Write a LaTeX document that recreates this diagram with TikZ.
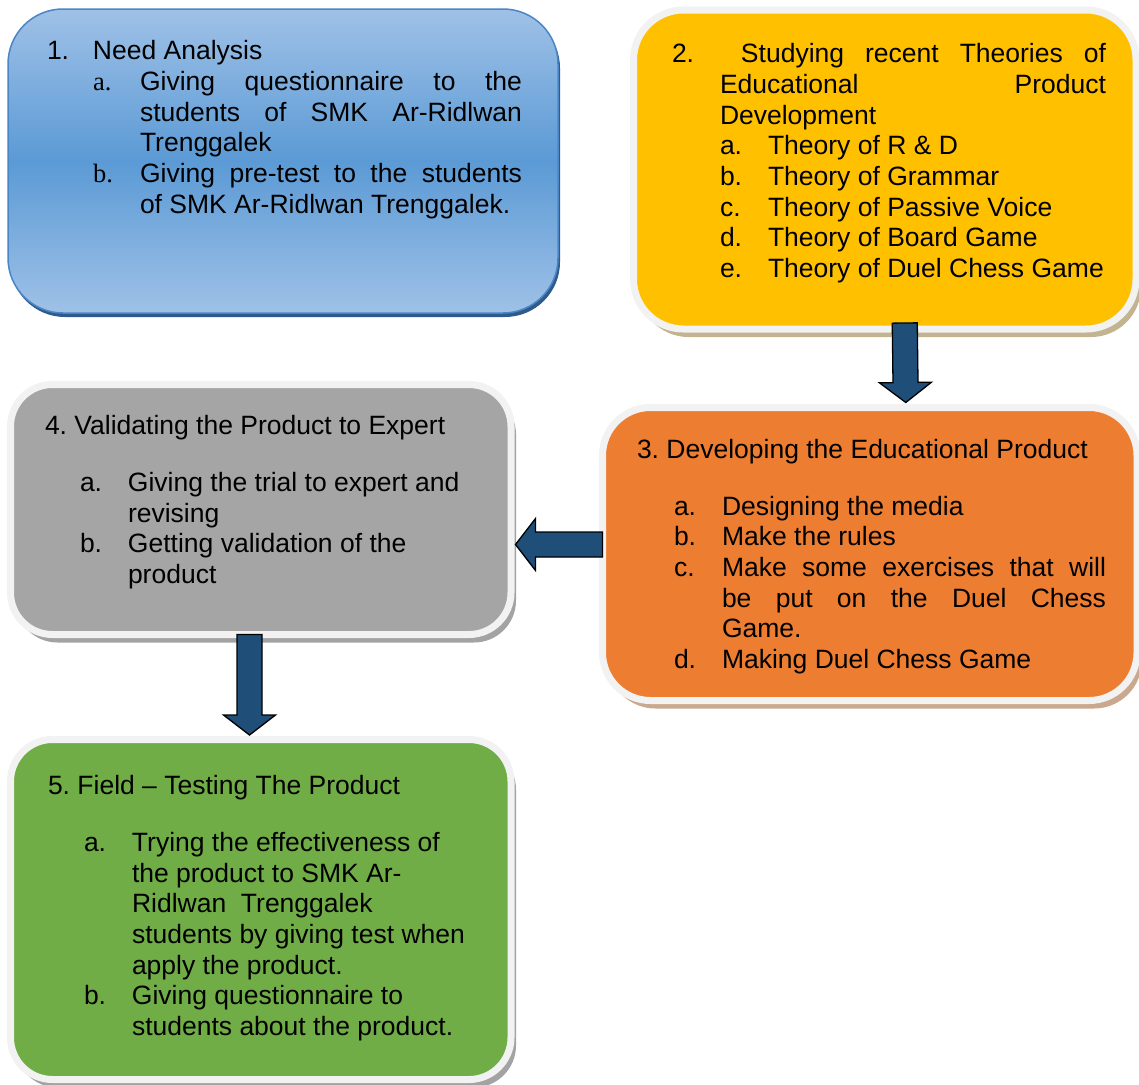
\documentclass[tikz,border=0pt]{standalone}
\usepackage{fontspec}
\setmainfont{Liberation Sans}
\newfontfamily\timesfont{Liberation Serif}
\usetikzlibrary{calc,shadows}

\definecolor{bluelight}{HTML}{9FC1E7}
\definecolor{bluemid}{HTML}{5B9AD5}
\definecolor{blueedge}{HTML}{4A86C5}
\definecolor{blueshadow}{HTML}{2E5A8C}
\definecolor{stepyellow}{HTML}{FFC000}
\definecolor{steporange}{HTML}{ED7D31}
\definecolor{stepgray}{HTML}{A5A5A5}
\definecolor{stepgreen}{HTML}{70AD47}
\definecolor{framegray}{HTML}{F2F2F2}
\definecolor{tanshadow}{HTML}{C2B48E}
\definecolor{brownshadow}{HTML}{C9A88E}
\definecolor{greyshadow}{HTML}{A3A3A3}
\definecolor{arrowblue}{HTML}{1F4E79}

\newcommand\stepfont{\fontsize{26.5}{30.65}\selectfont\frenchspacing
  \tolerance=9999\relax\hbadness=10000\relax\hyphenpenalty=10000\relax}

\tikzset{
  stepbox/.style={draw=framegray, line width=7pt, inner sep=0pt, outer sep=0pt, anchor=north west},
  stepshadow/.style={drop shadow={shadow xshift=5pt, shadow yshift=-8pt, fill=#1, opacity=1}},
  steptext/.style={anchor=north west, inner sep=0pt, outer sep=0pt, align=justify, font=\stepfont},
  flowarrow/.style={fill=arrowblue, draw=black, line width=1.3pt, line join=miter},
}

% first numbered line: label width, label
\newcommand\stepfirst[2]{\noindent\hangindent=#1\hangafter=1
  \makebox[#1][l]{\strut#2}\ignorespaces}
% one list line with hanging indent: indent, label width, label
\newcommand\stepitem[3]{\par\noindent\hangindent=\dimexpr#1+#2\relax\hangafter=1
  \hspace*{#1}\makebox[#2][l]{\strut#3}\ignorespaces}
% ragged line end
\newcommand\stepbreak{\hfil\break}

% block arrow from #2 to #3 (tip)
\newcommand\blockarrow[3]{%
  \coordinate (#1h) at ($(#3)!20pt!(#2)$);
  \filldraw[flowarrow] ($(#2)!12.5pt!90:(#3)$) -- ($(#1h)!12.5pt!90:(#3)$)
    -- ($(#1h)!26pt!90:(#3)$) -- (#3) -- ($(#1h)!26pt!-90:(#3)$)
    -- ($(#1h)!12.5pt!-90:(#3)$) -- ($(#2)!12.5pt!-90:(#3)$) -- cycle;}

\begin{document}
\begin{tikzpicture}[x=1pt,y=-1pt]

    \fill[white] (0,0) rectangle (1139,1084);
    \useasboundingbox (0,0) rectangle (1139,1084);

    % boxes
    \node[draw=blueedge, line width=1.5pt, rounded corners=55pt, inner sep=0pt, outer sep=0pt,
          anchor=north west, top color=bluelight, bottom color=bluelight, middle color=bluemid,
          drop shadow={shadow xshift=2pt, shadow yshift=-4pt, fill=blueshadow, opacity=1},
          minimum width=550pt, minimum height=304pt] (s1) at (8,9) {};
    \node[stepbox, stepshadow=tanshadow, fill=stepyellow, rounded corners=50pt,
          minimum width=502.5pt, minimum height=319pt] (s2) at (633.5,10) {};
    \node[stepbox, stepshadow=brownshadow, fill=steporange, rounded corners=48pt,
          minimum width=534.5pt, minimum height=293pt] (s3) at (602.5,407.5) {};
    \node[stepbox, stepshadow=greyshadow, fill=stepgray, rounded corners=42pt,
          minimum width=500.5pt, minimum height=250pt] (s4) at (10.5,384.5) {};
    \node[stepbox, stepshadow=greyshadow, fill=stepgreen, rounded corners=42pt,
          minimum width=500.5pt, minimum height=340pt] (s5) at (10.5,739.5) {};

    % texts
    \node[steptext, text width=475pt] (t1) at (47,38.5) {%
      \stepfirst{46pt}{1.}Need Analysis
      \stepitem{46pt}{47pt}{\timesfont a.}Giving questionnaire to the\linebreak
        students of SMK Ar-Ridlwan\linebreak Trenggalek
      \stepitem{46pt}{47pt}{\timesfont b.}Giving pre-test to the students\linebreak
        of SMK Ar-Ridlwan Trenggalek.\par};

    \node[steptext, text width=434pt] (t2) at (672,41.5) {%
      \stepfirst{48pt}{2.}\ Studying recent Theories of\linebreak
        Educational Product\linebreak Development
      \stepitem{48pt}{48pt}{a.}Theory of R \& D
      \stepitem{48pt}{48pt}{b.}Theory of Grammar
      \stepitem{48pt}{48pt}{c.}Theory of Passive Voice
      \stepitem{48pt}{48pt}{d.}Theory of Board Game
      \stepitem{48pt}{48pt}{e.}Theory of Duel Chess Game\par};

    \node[steptext, text width=469pt] (t3) at (637,437.5) {%
      \noindent\strut 3. Developing the Educational Product\par\vspace{25.5pt}
      \stepitem{37pt}{48pt}{a.}Designing the media
      \stepitem{37pt}{48pt}{b.}Make the rules
      \stepitem{37pt}{48pt}{c.}Make some exercises that will\linebreak
        be put on the Duel Chess\linebreak Game.
      \stepitem{37pt}{48pt}{d.}Making Duel Chess Game\par};

    \node[steptext, text width=450pt] (t4) at (45,413.5) {%
      \noindent\strut 4. Validating the Product to Expert\par\vspace{26pt}
      \stepitem{35pt}{48pt}{a.}Giving the trial to expert and\stepbreak revising
      \stepitem{35pt}{48pt}{b.}Getting validation of the\stepbreak product\par};

    \node[steptext, text width=450pt] (t5) at (48,773) {%
      \noindent\strut 5. Field -- Testing The Product\par\vspace{26.5pt}
      \stepitem{36pt}{48pt}{a.}Trying the effectiveness of\stepbreak
        the product to SMK Ar-\stepbreak Ridlwan\ \ Trenggalek\stepbreak
        students by giving test when\stepbreak apply the product.
      \stepitem{36pt}{48pt}{b.}Giving questionnaire to\stepbreak
        students about the product.\par};

    % arrows
    \coordinate (a23s) at ([xshift=20pt,yshift=6pt]s2.south);
    \coordinate (a23e) at ([xshift=36pt,yshift=5pt]s3.north);
    \blockarrow{a23}{a23s}{a23e}
    \coordinate (a34s) at ([yshift=9.5pt]s3.west);
    \coordinate (a34e) at ([xshift=4.5pt,yshift=-35pt]s4.east);
    \blockarrow{a34}{a34s}{a34e}
    \coordinate (a45s) at ([xshift=-11.25pt]s4.south);
    \coordinate (a45e) at ([xshift=-11.25pt,yshift=4.5pt]s5.north);
    \blockarrow{a45}{a45s}{a45e}

\end{tikzpicture}
\end{document}
